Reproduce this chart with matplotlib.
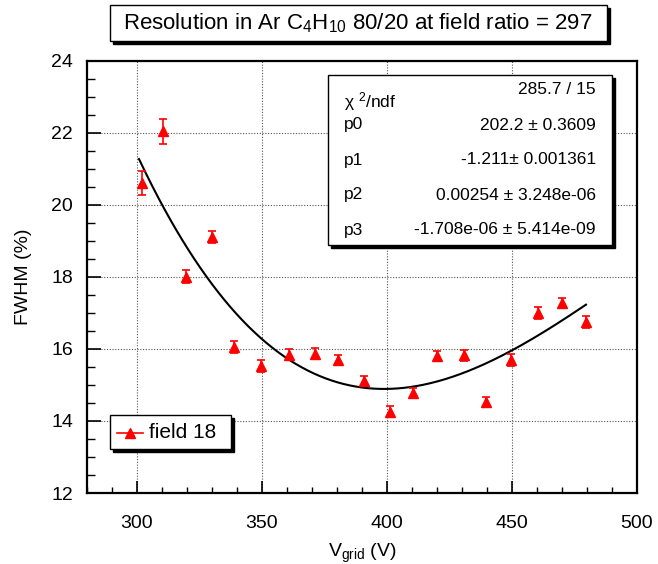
import numpy as np
import matplotlib
matplotlib.use('Agg')
import matplotlib.pyplot as plt
from matplotlib.patches import Rectangle
from matplotlib.ticker import MultipleLocator

plt.rcParams['font.family'] = 'Liberation Sans'
plt.rcParams['mathtext.fontset'] = 'custom'
plt.rcParams['mathtext.rm'] = 'Liberation Sans'
plt.rcParams['mathtext.it'] = 'Liberation Sans:italic'

# ---- data ----
v_grid = [301.9, 310.5, 319.5, 330.1, 338.9, 349.5, 360.9, 371.3, 380.4, 390.7,
          401.2, 410.5, 420.1, 430.9, 439.7, 449.6, 460.5, 470.0, 479.7]
fwhm = [20.60, 22.04, 18.00, 19.11, 16.06, 15.52, 15.84, 15.87, 15.69, 15.12,
        14.26, 14.77, 15.79, 15.82, 14.52, 15.69, 17.00, 17.27, 16.74]
fwhm_err = [0.33, 0.35, 0.18, 0.17, 0.17, 0.17, 0.16, 0.16, 0.15, 0.14,
            0.15, 0.14, 0.14, 0.15, 0.14, 0.17, 0.16, 0.15, 0.17]

# cubic fit parameters shown in the stats box
fit_pars = [202.2, -1.211, 0.00254, -1.708e-06]
fit_range = (300.8, 479.6)

stat_names = ['p0', 'p1', 'p2', 'p3']
stat_values = ['202.2 \u00b1 0.3609', '-1.211\u00b1 0.001361',
               '0.00254 \u00b1 3.248e-06', '-1.708e-06 \u00b1 5.414e-09']
chi2_text = '285.7 / 15'

x_ticks = [300, 350, 400, 450, 500]
y_ticks = [12, 14, 16, 18, 20, 22, 24]

W, H = 658, 564


def fx(px):
    return px / W


def fy(py):
    return 1 - py / H


def shadow_box(fig, x0, y0, x1, y1, off=3):
    # ROOT-style box with a black drop shadow (pixel coords, y down)
    fig.patches.append(Rectangle((fx(x0 + off), fy(y1 + off)), fx(x1 - x0), (y1 - y0) / H,
                                 transform=fig.transFigure, facecolor='black',
                                 edgecolor='black', zorder=5))
    fig.patches.append(Rectangle((fx(x0), fy(y1)), fx(x1 - x0), (y1 - y0) / H,
                                 transform=fig.transFigure, facecolor='white',
                                 edgecolor='black', linewidth=1.0, zorder=6))


fig = plt.figure(figsize=(W / 100, H / 100), dpi=100)
ax = fig.add_axes([fx(87), fy(493), fx(637) - fx(87), fy(60.5) - fy(493)])

# data points
ax.errorbar(v_grid, fwhm, yerr=fwhm_err, fmt='^', color='red', markersize=7,
            elinewidth=1.2, capsize=3, capthick=1.2, zorder=4)

# fit curve
xf = np.linspace(fit_range[0], fit_range[1], 300)
yf = sum(p * xf ** i for i, p in enumerate(fit_pars))
ax.plot(xf, yf, color='black', linewidth=1.5, zorder=3)

ax.set_xlim(280, 500)
ax.set_ylim(12, 24)
ax.set_xticks(x_ticks)
ax.set_yticks(y_ticks)
ax.xaxis.set_minor_locator(MultipleLocator(10))
ax.yaxis.set_minor_locator(MultipleLocator(0.5))
ax.tick_params(axis='x', which='major', direction='in', length=8.5, width=1.2,
               labelsize=14, pad=16, top=False)
ax.tick_params(axis='x', which='minor', direction='in', length=4.3, width=1.0, top=False)
ax.tick_params(axis='y', which='major', direction='in', length=10, width=1.2,
               labelsize=14, pad=10, right=False)
ax.tick_params(axis='y', which='minor', direction='in', length=5.5, width=1.0, right=False)
for s in ax.spines.values():
    s.set_linewidth(1.6)
ax.grid(True, which='major', color='#555555', linestyle=(0, (1, 1.5)), linewidth=0.8)

ax.set_xlabel(r'V$_{\mathrm{grid}}$ (V)', fontsize=14, labelpad=7)
ax.set_ylabel('FWHM (%)', fontsize=14, labelpad=14)

# title box
shadow_box(fig, 110, 5, 607, 41)
fig.text(fx(358), fy(23), r'Resolution in Ar C$_{4}$H$_{10}$ 80/20 at field ratio = 297',
         ha='center', va='center', fontsize=16, zorder=7)

# stats box
fs = 12.5
shadow_box(fig, 328, 75, 612, 245)
fig.text(fx(344), fy(102), '\u03c7 $^{2}$/ndf', ha='left', va='center', fontsize=fs, zorder=7)
fig.text(fx(596), fy(90), chi2_text, ha='right', va='center', fontsize=fs, zorder=7)
rows_y = [125, 160, 195, 230]
for name, val, yy in zip(stat_names, stat_values, rows_y):
    fig.text(fx(344), fy(yy), name, ha='left', va='center', fontsize=fs, zorder=7)
    fig.text(fx(596), fy(yy), val, ha='right', va='center', fontsize=fs, zorder=7)

# legend box
shadow_box(fig, 110, 415, 231, 449)
fig.lines.append(plt.Line2D([fx(117), fx(143)], [fy(433), fy(433)], color='red',
                            linewidth=1.2, transform=fig.transFigure, zorder=7))
fig.lines.append(plt.Line2D([fx(130)], [fy(433)], color='red', marker='^', markersize=7,
                            transform=fig.transFigure, zorder=7))
fig.text(fx(149), fy(433), 'field 18', ha='left', va='center', fontsize=15, zorder=7)

fig.savefig('out.png', dpi=100)
